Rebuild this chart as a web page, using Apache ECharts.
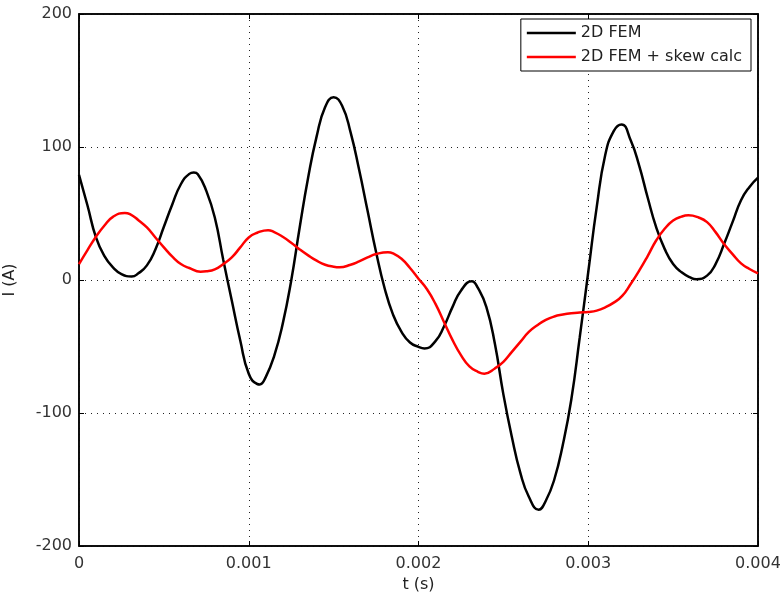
<!DOCTYPE html>
<html>
<head>
<meta charset="utf-8">
<script src="https://cdn.jsdelivr.net/npm/echarts@6/dist/echarts.min.js"></script>
<style>html,body{margin:0;padding:0;background:#fff;}#c{width:780px;height:595px;}</style>
</head>
<body>
<div id="c"></div>
<script>
// 2D FEM: sample times (ms) and current (A)
const femTimes = [0,0.05,0.1,0.15,0.2,0.25,0.31,0.35,0.4,0.45,
  0.5,0.55,0.6,0.65,0.676,0.7,0.75,0.8,0.85,0.9,0.95,
  1.0,1.05,1.065,1.1,1.15,1.2,1.25,1.3,1.35,1.4,1.45,
  1.5,1.55,1.6,1.65,1.7,1.75,1.8,1.85,1.9,1.95,
  2.0,2.035,2.1,2.15,2.2,2.25,2.314,2.35,2.4,2.45,
  2.5,2.55,2.6,2.65,2.708,2.75,2.8,2.85,2.9,2.95,
  3.0,3.05,3.1,3.15,3.196,3.25,3.3,3.35,3.4,3.45,
  3.5,3.55,3.6,3.637,3.7,3.75,3.8,3.85,3.9,3.95,4.0];
const fem = [79,56,32,18,9.5,4.5,2.6,5,11,23,
  40,57,72,79.8,80.8,79.6,67,47,15,-15.5,-45.5,
  -70.5,-78.2,-78.5,-73,-57,-33,-0.5,39.5,77,108,130,
  137.5,131,111,83,52,21,-6,-26,-39,-47,
  -50.3,-51.5,-46,-35,-20.4,-8,-1,-6,-20.4,-48,
  -86,-118,-145,-163,-172.7,-166,-150,-124,-90,-43,
  6,55,94,112,117,105,86,62,39.7,23.4,
  12,5.8,2,0.6,3.3,12,27,43.5,60,70,77];
// 2D FEM + skew calc: sample times (ms) and current (A)
const skewTimes = [0,0.05,0.1,0.15,0.2,0.27,0.3,0.35,0.4,0.45,
  0.5,0.55,0.6,0.65,0.716,0.75,0.8,0.85,0.9,0.95,
  1.0,1.05,1.114,1.15,1.2,1.25,1.3,1.35,1.4,1.45,
  1.5,1.535,1.6,1.65,1.7,1.75,1.82,1.85,1.9,1.95,
  2.0,2.05,2.1,2.15,2.2,2.25,2.3,2.35,2.388,2.45,
  2.5,2.55,2.6,2.65,2.7,2.75,2.8,2.85,2.9,2.95,
  3.0,3.05,3.1,3.15,3.2,3.25,3.3,3.35,3.4,3.45,
  3.5,3.55,3.59,3.65,3.7,3.75,3.8,3.85,3.9,3.95,4.0];
const skew = [12,22.5,32.5,41,47.5,50.4,49.5,45,39.5,32,
  24.5,17.5,12,9,6.2,6.5,8,12,17,24.5,
  32,35.5,37.5,36,32.5,28,23,18.5,14.5,11.5,
  10,9.6,11.5,14,17,19.5,20.9,20,16,9,
  1,-7,-18,-31.6,-45,-56.5,-65,-69,-70.4,-66.5,
  -61.5,-54,-46.5,-39,-34,-30,-27.4,-26,-25,-24.4,
  -24,-23,-20.6,-17,-12,-3,7,18,29.7,38.5,
  44.7,47.7,48.6,47,43.5,36,27,19.5,12.5,8.3,5];
const xTicks = [0,0.001,0.002,0.003,0.004];
const yTicks = [-200,-100,0,100,200];
const seriesNames = ['2D FEM','2D FEM + skew calc'];

const font = 'DejaVu Sans';
const chart = echarts.init(document.getElementById('c'));
const pairs = (ts,arr) => ts.map((t,i)=>[t/1000,arr[i]]);
const dotted = {color:'#222',type:[1,5],width:1};
chart.setOption({
  animation:false,
  backgroundColor:'#fff',
  grid:{left:79,right:22,top:14,bottom:49,outerBoundsMode:'none',containLabel:false,
        show:true,borderColor:'#000',borderWidth:1.5,backgroundColor:'transparent'},
  legend:{
    right:29, top:19, orient:'vertical',
    icon:'rect', itemWidth:49, itemHeight:2.5, itemGap:8,
    padding:[6,9,6,6],
    borderColor:'#000', borderWidth:1, backgroundColor:'#fff',
    textStyle:{fontFamily:font,fontSize:16,color:'#222'},
    data:seriesNames
  },
  xAxis:[{
    type:'value', min:xTicks[0], max:xTicks[4], interval:0.001,
    name:'t (s)', nameLocation:'middle', nameGap:30,
    nameTextStyle:{fontFamily:font,fontSize:16,color:'#222'},
    axisLine:{onZero:false,lineStyle:{color:'#000',width:1.5}},
    axisTick:{inside:true,length:5,lineStyle:{color:'#000'}},
    axisLabel:{fontFamily:font,fontSize:16,color:'#333',margin:10},
    splitLine:{show:true,lineStyle:dotted}
  },{
    type:'value', position:'top', min:xTicks[0], max:xTicks[4], interval:0.001,
    axisLine:{onZero:false,lineStyle:{color:'#000',width:1.5}},
    axisTick:{inside:true,length:5,lineStyle:{color:'#000'}},
    axisLabel:{show:false}, splitLine:{show:false}
  }],
  yAxis:[{
    type:'value', min:yTicks[0], max:yTicks[4], interval:100,
    name:'I (A)', nameLocation:'middle', nameGap:61, nameRotate:90,
    nameTextStyle:{fontFamily:font,fontSize:16,color:'#222'},
    axisLine:{onZero:false,lineStyle:{color:'#000',width:1.5}},
    axisTick:{inside:true,length:5,lineStyle:{color:'#000'}},
    axisLabel:{fontFamily:font,fontSize:16,color:'#333',margin:7},
    splitLine:{show:true,lineStyle:dotted}
  },{
    type:'value', position:'right', min:yTicks[0], max:yTicks[4], interval:100,
    axisLine:{onZero:false,lineStyle:{color:'#000',width:1.5}},
    axisTick:{inside:true,length:5,lineStyle:{color:'#000'}},
    axisLabel:{show:false}, splitLine:{show:false}
  }],
  series:[
    {name:seriesNames[0],type:'line',data:pairs(femTimes,fem),smooth:0.5,showSymbol:false,symbol:'none',
     lineStyle:{color:'#000',width:2.5},itemStyle:{color:'#000'}},
    {name:seriesNames[1],type:'line',data:pairs(skewTimes,skew),smooth:0.5,showSymbol:false,symbol:'none',
     lineStyle:{color:'#ff0000',width:2.5},itemStyle:{color:'#ff0000'}}
  ]
});
</script>
</body>
</html>
